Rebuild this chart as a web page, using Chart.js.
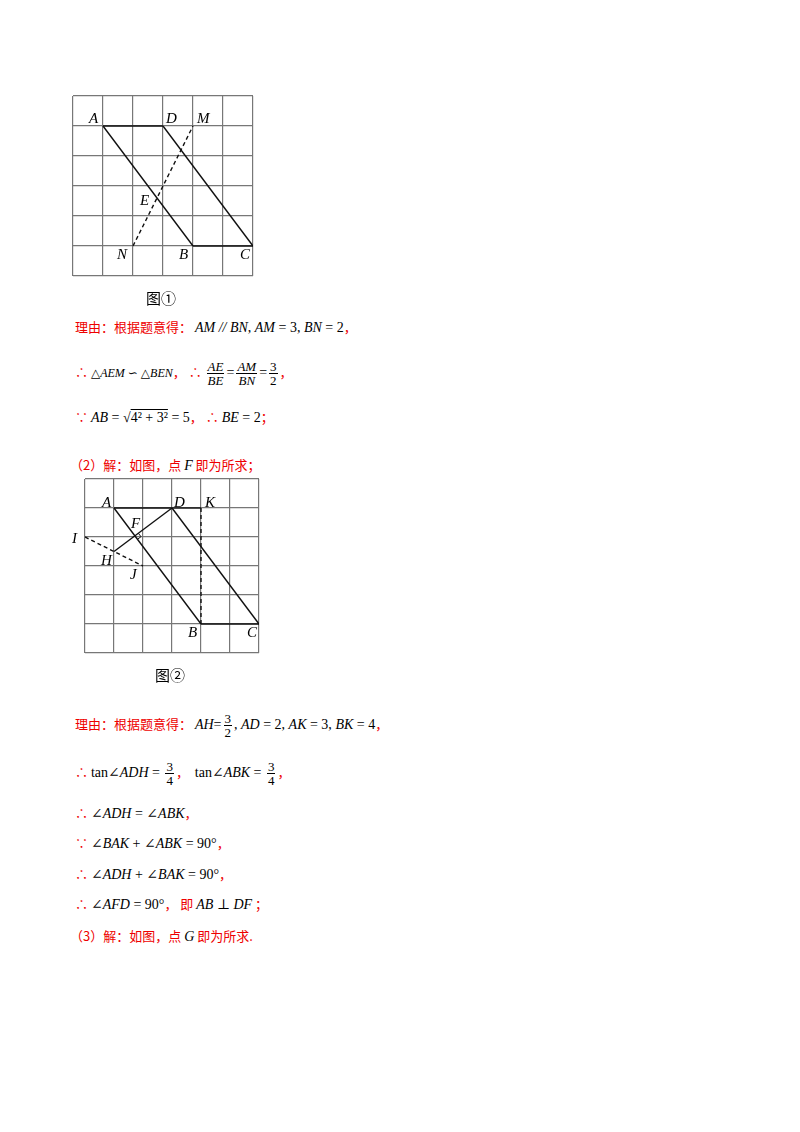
<!DOCTYPE html>
<html><head><meta charset="utf-8">
<script src="https://cdn.jsdelivr.net/npm/chart.js"></script>
<style>
body{margin:0;width:800px;height:1132px;background:#fff;position:relative;font-family:"Noto Sans CJK SC",serif;}
.t{position:absolute;white-space:nowrap;font-size:13px;color:#e00;line-height:1;}
.m{font-family:"Liberation Serif","DejaVu Serif",serif;font-style:italic;color:#000;font-size:14px;}
.n{font-style:normal;}
.fr{display:inline-flex;flex-direction:column;align-items:center;vertical-align:middle;font-size:13px;margin:0 2px;}
.fr span:first-child{border-bottom:1px solid #000;padding:0 1px;}
.lab{position:absolute;font-family:"Liberation Serif",serif;font-style:italic;font-size:15px;color:#000;}
.cap{position:absolute;font-family:"Noto Sans CJK SC";font-size:15px;color:#000;}
.cv{position:absolute;}
</style></head><body>
<div class="cv" style="left:71px;top:94px;width:184px;height:184px"><canvas id="c1"></canvas></div>
<div class="cv" style="left:83px;top:477px;width:178px;height:178px"><canvas id="c2"></canvas></div>

<div class="lab" style="left:89px;top:110px">A</div>
<div class="lab" style="left:166px;top:110px">D</div>
<div class="lab" style="left:197px;top:110px">M</div>
<div class="lab" style="left:140px;top:192px">E</div>
<div class="lab" style="left:117px;top:246px">N</div>
<div class="lab" style="left:179px;top:246px">B</div>
<div class="lab" style="left:240px;top:246px">C</div>
<div class="cap" style="left:146px;top:287px">图①</div>

<div class="lab" style="left:102px;top:494px">A</div>
<div class="lab" style="left:174px;top:494px">D</div>
<div class="lab" style="left:205px;top:494px">K</div>
<div class="lab" style="left:131px;top:515px">F</div>
<div class="lab" style="left:72px;top:530px">I</div>
<div class="lab" style="left:101px;top:552px">H</div>
<div class="lab" style="left:130px;top:566px">J</div>
<div class="lab" style="left:188px;top:624px">B</div>
<div class="lab" style="left:247px;top:624px">C</div>
<div class="cap" style="left:155px;top:664px">图②</div>

<div class="t" style="left:75px;top:320px">理由：根据题意得： <span class="m">AM // BN</span><span class="m n">, </span><span class="m">AM</span><span class="m n"> = 3, </span><span class="m">BN</span><span class="m n"> = 2</span>，</div>
<div class="t" style="left:75px;top:360px">∴ <span class="m" style="font-size:12px">△AEM ∽ △BEN</span>， ∴ <span class="fr m"><span>AE</span><span>BE</span></span><span class="m n">=</span><span class="fr m"><span>AM</span><span>BN</span></span><span class="m n">=</span><span class="fr m n"><span>3</span><span>2</span></span>，</div>
<div class="t" style="left:75px;top:410px">∵ <span class="m">AB</span><span class="m n"> = √<span style="text-decoration:overline">4² + 3²</span> = 5</span>， ∴ <span class="m">BE</span><span class="m n"> = 2</span>；</div>
<div class="t" style="left:70px;top:458px">（2）解：如图，点 <span class="m">F</span> 即为所求；</div>

<div class="t" style="left:75px;top:712px">理由：根据题意得： <span class="m">AH</span><span class="m n">=</span><span class="fr m n"><span>3</span><span>2</span></span><span class="m n">, </span><span class="m">AD</span><span class="m n"> = 2, </span><span class="m">AK</span><span class="m n"> = 3, </span><span class="m">BK</span><span class="m n"> = 4</span>，</div>
<div class="t" style="left:75px;top:760px">∴ <span class="m n">tan∠</span><span class="m">ADH</span><span class="m n"> = </span><span class="fr m n"><span>3</span><span>4</span></span>，&nbsp; <span class="m n">tan∠</span><span class="m">ABK</span><span class="m n"> = </span><span class="fr m n"><span>3</span><span>4</span></span>，</div>
<div class="t" style="left:75px;top:806px">∴ <span class="m n">∠</span><span class="m">ADH</span><span class="m n"> = ∠</span><span class="m">ABK</span>，</div>
<div class="t" style="left:75px;top:836px">∵ <span class="m n">∠</span><span class="m">BAK</span><span class="m n"> + ∠</span><span class="m">ABK</span><span class="m n"> = 90°</span>，</div>
<div class="t" style="left:75px;top:867px">∴ <span class="m n">∠</span><span class="m">ADH</span><span class="m n"> + ∠</span><span class="m">BAK</span><span class="m n"> = 90°</span>，</div>
<div class="t" style="left:75px;top:897px">∴ <span class="m n">∠</span><span class="m">AFD</span><span class="m n"> = 90°</span>， 即 <span class="m">AB</span><span class="m n"> ⊥ </span><span class="m">DF</span> ；</div>
<div class="t" style="left:70px;top:929px">（3）解：如图，点 <span class="m">G</span> 即为所求.</div>

<script>
// grid units (x: column, y: row from top)
const gridSize = 6;
const fig1Points = {A:[1,1], D:[3,1], M:[4,1], B:[4,5], C:[6,5], N:[2,5]};
const fig1Solid = [["A","D"],["D","C"],["C","B"],["B","A"]];
const fig1Dashed = [["N","M"]];
const fig2Points = {A:[1,1], D:[3,1], K:[4,1], B:[4,5], C:[6,5], I:[0,2], H:[1,2.5], J:[2,3]};
const fig2Solid = [["A","D"],["D","K"],["D","C"],["C","B"],["B","A"],["H","D"]];
const fig2Dashed = [["K","B"],["I","J"]];

function P(a){return {x:a[0],y:a[1]};}
function seg(p,q,dash){return {data:[P(p),P(q)],showLine:true,pointRadius:0,borderColor:'#111',borderWidth:1.4,borderDash:dash?[4,3]:[],fill:false};}
function build(id,pts,solid,dashed,extra){
  const ds=[];
  solid.forEach(s=>ds.push(seg(pts[s[0]],pts[s[1]],false)));
  dashed.forEach(s=>ds.push(seg(pts[s[0]],pts[s[1]],true)));
  (extra||[]).forEach(e=>ds.push(e));
  const ax={type:'linear',min:0,max:gridSize,ticks:{display:false,stepSize:1},border:{display:false},grid:{color:'#777',lineWidth:1.2,borderDash:[4,3],drawTicks:false}};
  new Chart(document.getElementById(id),{type:'scatter',data:{datasets:ds},
    options:{responsive:true,maintainAspectRatio:false,animation:false,layout:{padding:2},
      plugins:{legend:{display:false},tooltip:{enabled:false}},
      scales:{x:ax,y:Object.assign({},ax,{reverse:true})}}});
}
build('c1',fig1Points,fig1Solid,fig1Dashed);

// right-angle mark at F = foot of perpendicular from D to AB
const a=fig2Points.A,b=fig2Points.B,d=fig2Points.D;
const L=Math.hypot(b[0]-a[0],b[1]-a[1]);
const u=[(b[0]-a[0])/L,(b[1]-a[1])/L];
const t=(d[0]-a[0])*u[0]+(d[1]-a[1])*u[1];
const F=[a[0]+t*u[0],a[1]+t*u[1]];
const vL=Math.hypot(d[0]-F[0],d[1]-F[1]);
const v=[(d[0]-F[0])/vL,(d[1]-F[1])/vL];
const s=0.15;
const p1=[F[0]+s*u[0],F[1]+s*u[1]], p3=[F[0]+s*v[0],F[1]+s*v[1]], p2=[p1[0]+s*v[0],p1[1]+s*v[1]];
const mark={data:[P(p1),P(p2),P(p3)],showLine:true,pointRadius:0,borderColor:'#111',borderWidth:1,fill:false};
build('c2',fig2Points,fig2Solid,fig2Dashed,[mark]);
</script>
</body></html>
